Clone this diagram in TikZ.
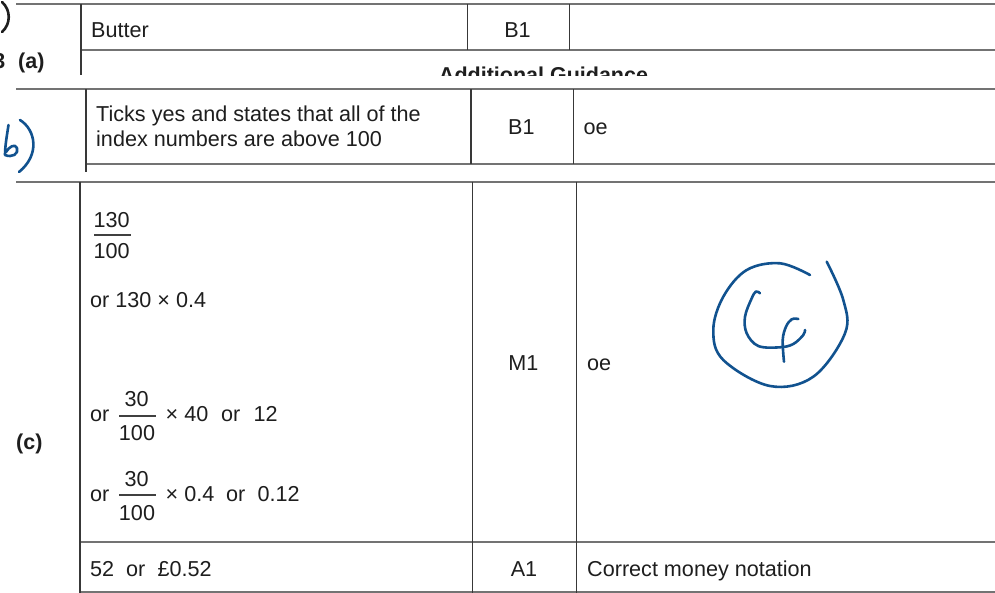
\documentclass[tikz,border=0pt]{standalone}
\usepackage{fontspec}
\setmainfont{Liberation Sans}
\definecolor{handblue}{RGB}{17,82,143}
\definecolor{inkgray}{RGB}{30,30,30}
\begin{document}
\begin{tikzpicture}[x=1pt,y=-1pt,
  hl/.style={draw=black!55,line width=1.8pt},
  vl/.style={draw=black!78,line width=1.2pt},
  bar/.style={draw=black!75,line width=1.1pt},
  txt/.style={anchor=base west,inner sep=0pt,text=inkgray,font=\fontsize{21.6}{25}\selectfont},
  ctxt/.style={anchor=base,inner sep=0pt,text=inkgray,font=\fontsize{21.6}{25}\selectfont},
  btxt/.style={anchor=base west,inner sep=0pt,text=inkgray,font=\fontsize{21.5}{25}\selectfont\bfseries},
  hand/.style={draw=handblue,line width=2.6pt,line cap=round,line join=round}]
\useasboundingbox[fill=white] (0,0) rectangle (995,593);

% ---------- section 1 ----------
\coordinate (s1tl) at (16,4);   \coordinate (s1tr) at (995,4);
\coordinate (s1v0t) at (81,4);  \coordinate (s1v0b) at (81,75);
\coordinate (s1r0) at (81,50);  \coordinate (s1r1) at (995,50);
\coordinate (s1v1t) at (467.3,4); \coordinate (s1v1b) at (467.3,50);
\coordinate (s1v2t) at (569.3,4); \coordinate (s1v2b) at (569.3,50);
\draw[hl] (s1tl) -- (s1tr);
\draw[hl] (s1r0) -- (s1r1);
\draw[vl] (s1v0t) -- (s1v0b);
\draw[vl] (s1v1t) -- (s1v1b);
\draw[vl] (s1v2t) -- (s1v2b);
\node[txt] (butter) at (91,38) {Butter};
\node[ctxt] (b1a) at (517.5,38) {B1};
\node[btxt] (qa) at (18,68.5) {(a)};
\node[btxt,anchor=base east] (q3) at (5.5,68.5) {3};
\draw[line width=2.6pt,draw=inkgray,line cap=round] (2,2) .. controls (11,10) and (11,24) .. (2,32);
\begin{scope}
  \clip (380,55) rectangle (720,75.5);
  \node[anchor=base,inner sep=0pt,text=inkgray,font=\fontsize{21.5}{25}\selectfont\bfseries] (addg) at (543.5,82.5) {Additional Guidance};
\end{scope}

% ---------- section 2 ----------
\coordinate (s2tl) at (16,89.3);  \coordinate (s2tr) at (995,89.3);
\coordinate (s2v0t) at (86,89.3); \coordinate (s2v0b) at (86,171.7);
\coordinate (s2bl) at (86,164.3); \coordinate (s2br) at (995,164.3);
\coordinate (s2v1t) at (471,89.3); \coordinate (s2v1b) at (471,164.3);
\coordinate (s2v2t) at (573.3,89.3); \coordinate (s2v2b) at (573.3,164.3);
\draw[hl] (s2tl) -- (s2tr);
\draw[hl] (s2bl) -- (s2br);
\draw[vl] (s2v0t) -- (s2v0b);
\draw[vl] (s2v1t) -- (s2v1b);
\draw[vl] (s2v2t) -- (s2v2b);
\node[txt] (ticks1) at (96,122) {Ticks yes and states that all of the};
\node[txt] (ticks2) at (96,147) {index numbers are above 100};
\node[ctxt] (b1b) at (521.3,135) {B1};
\node[txt] (oeb) at (583.5,135) {oe};
% handwritten b)
\draw[hand] (8.5,125) .. controls (7,135) and (5,146) .. (5,155)
  .. controls (12,158) and (19,154) .. (17,148)
  .. controls (15,143) and (9,147) .. (6,152);
\draw[hand] (20,120) .. controls (36,130) and (40,155) .. (19,172);

% ---------- section 3 ----------
\coordinate (s3tl) at (16,181.7);  \coordinate (s3tr) at (995,181.7);
\coordinate (s3v0t) at (80,181.7); \coordinate (s3v0b) at (80,593);
\coordinate (s3v1t) at (472.3,181.7); \coordinate (s3v1b) at (472.3,593);
\coordinate (s3v2t) at (576.7,181.7); \coordinate (s3v2b) at (576.7,593);
\coordinate (s3ml) at (80,542.3);  \coordinate (s3mr) at (995,542.3);
\coordinate (s3bl) at (80,591.7);  \coordinate (s3br) at (995,591.7);
\draw[hl] (s3tl) -- (s3tr);
\draw[hl] (s3ml) -- (s3mr);
\draw[hl] (s3bl) -- (s3br);
\draw[vl] (s3v0t) -- (s3v0b);
\draw[vl] (s3v1t) -- (s3v1b);
\draw[vl] (s3v2t) -- (s3v2b);

\node[btxt] (qc) at (16,449) {(c)};

% 130/100
\node[ctxt] (n130) at (111.7,227.3) {130};
\node[ctxt] (d100a) at (111.7,258.3) {100};
\coordinate (bar1l) at (94.3,235); \coordinate (bar1r) at (130.7,235);
\draw[bar] (bar1l) -- (bar1r);
\node[txt] (or130) at (90,307.3) {or 130 × 0.4};

% or 30/100 x 40 or 12
\node[txt] (orA) at (90,421.7) {or};
\node[ctxt] (n30a) at (136.7,406.7) {30};
\node[ctxt] (d100b) at (137,440) {100};
\coordinate (bar2l) at (119.3,416); \coordinate (bar2r) at (156,416);
\draw[bar] (bar2l) -- (bar2r);
\node[txt] (x40) at (165.5,421.7) {× 40};
\node[txt] (orB) at (221,421.7) {or};
\node[txt] (n12) at (253.5,421.7) {12};

% or 30/100 x 0.4 or 0.12
\node[txt] (orC) at (90,501.7) {or};
\node[ctxt] (n30b) at (136.7,486.7) {30};
\node[ctxt] (d100c) at (137,520) {100};
\coordinate (bar3l) at (119.3,495); \coordinate (bar3r) at (156,495);
\draw[bar] (bar3l) -- (bar3r);
\node[txt] (x04) at (165.5,501.7) {× 0.4};
\node[txt] (orD) at (226,501.7) {or};
\node[txt] (n012) at (257.5,501.7) {0.12};

\node[ctxt] (m1) at (523.3,370) {M1};
\node[txt] (oec) at (587,370) {oe};

% bottom row
\node[txt] (n52) at (90,576) {52};
\node[txt] (orE) at (126,576) {or};
\node[txt] (pound) at (157.5,576) {£0.52};
\node[ctxt] (a1) at (524,576.5) {A1};
\node[txt] (corr) at (587,576.5) {Correct money notation};

% handwritten circled 4
\draw[hand] plot[smooth,tension=0.6] coordinates {(810,275) (780,263.3) (746.7,270) (723.3,296.7) (713.3,330) (723.3,360) (770,386) (813.3,376.7) (845,333.3) (843.3,300) (826.7,261.7)};
\draw[hand] plot[smooth,tension=0.6] coordinates {(760,293.3) (756,291.5) (751.7,298.3) (745,316.7) (746.7,333.3) (758.3,346) (780,347.3) (793.3,344) (803.3,335) (805,330)};
\draw[hand] plot[smooth,tension=0.6] coordinates {(798.3,319) (791.7,319.3) (786,326.7) (782.7,340) (784,361.7)};
\end{tikzpicture}
\end{document}
